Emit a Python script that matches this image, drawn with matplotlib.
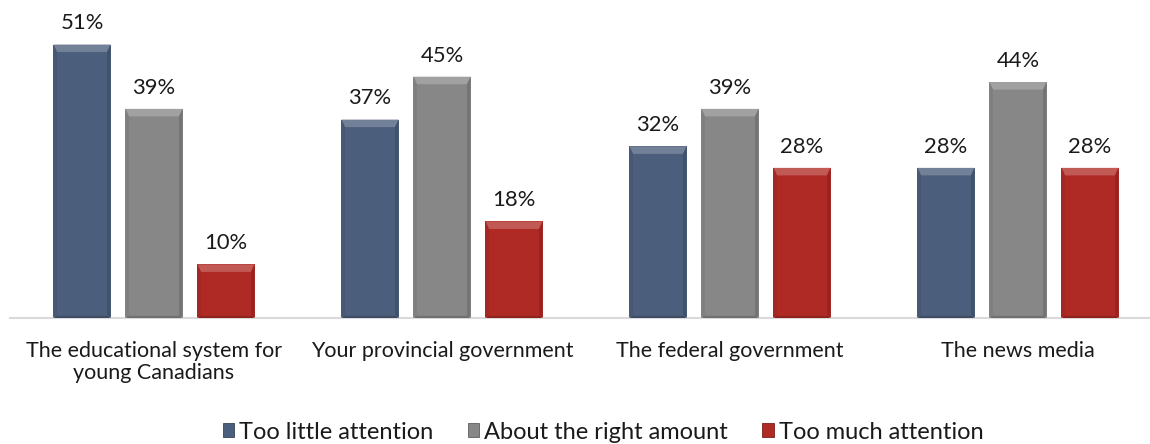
import matplotlib
matplotlib.use("Agg")
import matplotlib.pyplot as plt
from matplotlib.patches import Polygon, Rectangle
from matplotlib.colors import to_rgb
import numpy as np

categories = ["The educational system for\nyoung Canadians",
              "Your provincial government",
              "The federal government",
              "The news media"]
series_names = ["Too little attention", "About the right amount", "Too much attention"]
too_little = [51, 37, 32, 28]
about_right = [39, 45, 39, 44]
too_much = [10, 18, 28, 28]
series_values = [too_little, about_right, too_much]
colors = ["#4b5e7b", "#878787", "#b02a25"]

plt.rcParams["font.family"] = ["Lato", "DejaVu Sans"]

fig = plt.figure(figsize=(11.5, 4.44), dpi=100)
ax = fig.add_axes([10 / 1150, 126 / 444, 1152 / 1150, 311 / 444])


def shade(c, f):
    r = np.array(to_rgb(c))
    if f >= 0:
        r = r + (1 - r) * f
    else:
        r = r * (1 + f)
    return tuple(np.clip(r, 0, 1))


def bevel(ax, patch, color):
    x0, y0 = patch.get_x(), patch.get_y()
    w, h = patch.get_width(), patch.get_height()
    x1, y1 = x0 + w, y0 + h
    dx, dy = 0.012, 1.4
    dyb = 0.4
    # top face
    ax.add_patch(Polygon([(x0, y1), (x1, y1), (x1 - dx, y1 - dy), (x0 + dx, y1 - dy)],
                         closed=True, facecolor=shade(color, 0.22), edgecolor="none", zorder=3))
    # left side
    ax.add_patch(Polygon([(x0, y0), (x0, y1), (x0 + dx, y1 - dy), (x0 + dx, y0 + dyb)],
                         closed=True, facecolor=shade(color, -0.06), edgecolor="none", zorder=3))
    # right side
    ax.add_patch(Polygon([(x1, y0), (x1, y1), (x1 - dx, y1 - dy), (x1 - dx, y0 + dyb)],
                         closed=True, facecolor=shade(color, -0.14), edgecolor="none", zorder=3))
    # bottom
    ax.add_patch(Polygon([(x0, y0), (x1, y0), (x1 - dx, y0 + dyb), (x0 + dx, y0 + dyb)],
                         closed=True, facecolor=shade(color, -0.18), edgecolor="none", zorder=3))


x = np.arange(len(categories))
offsets = [-0.25, 0.0, 0.25]
width = 0.198
for vals, off, col in zip(series_values, offsets, colors):
    bars = ax.bar(x + off, vals, width=width, color=col, zorder=2)
    for b, v in zip(bars, vals):
        bevel(ax, b, col)
        ax.annotate(f"{v}%", (b.get_x() + b.get_width() / 2, v),
                    xytext=(0, 8), textcoords="offset points",
                    ha="center", va="bottom", fontsize=15.8, color="#1a1a1a")

ax.set_xlim(-0.5, 3.5)
ax.set_ylim(0, 58)
ax.set_yticks([])
ax.set_xticks(x)
ax.set_xticklabels(categories, fontsize=15.5, color="#1a1a1a", linespacing=1.12)
ax.tick_params(axis="x", length=0, pad=16.5)
for s in ["top", "left", "right"]:
    ax.spines[s].set_visible(False)
ax.spines["bottom"].set_color("#d9d9d9")
ax.spines["bottom"].set_linewidth(1.5)

handles = [Rectangle((0, 0), 1, 1, facecolor=c, edgecolor=shade(c, -0.3), linewidth=0.6)
           for c in colors]
fig.legend(handles, series_names, loc="center", bbox_to_anchor=(603 / 1150, 1 - 432 / 444),
           ncol=3, frameon=False, fontsize=17, handlelength=0.5, handleheight=0.5,
           handletextpad=0.2, columnspacing=1.45, labelcolor="#1a1a1a")

fig.savefig("out.png", dpi=100)
